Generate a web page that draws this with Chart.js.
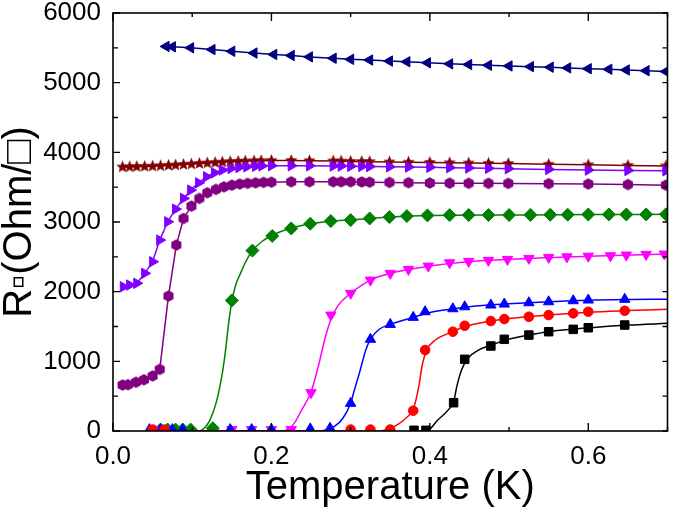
<!DOCTYPE html>
<html>
<head>
<meta charset="utf-8">
<script src="https://cdn.jsdelivr.net/npm/chart.js@4"></script>
<style>
  html, body { margin: 0; padding: 0; background: #fff; }
  #wrap { width: 675px; height: 512px; }
</style>
</head>
<body>
<div id="wrap"><canvas id="chart" width="675" height="512"></canvas></div>
<script>
// Sheet resistance vs temperature

// left triangles (navy)
const navyT = [0.067, 0.075, 0.098, 0.125, 0.150, 0.178, 0.203, 0.225, 0.248, 0.278, 0.300, 0.324, 0.349, 0.371, 0.397, 0.425, 0.449, 0.474, 0.500, 0.527, 0.552, 0.574, 0.600, 0.626, 0.648, 0.673, 0.698];
const navyR = [5520, 5515, 5500, 5475, 5450, 5425, 5405, 5390, 5370, 5350, 5335, 5325, 5310, 5300, 5285, 5270, 5260, 5250, 5240, 5230, 5222, 5212, 5200, 5192, 5182, 5172, 5160];

// stars (dark red)
const starT = [0.012, 0.021, 0.030, 0.040, 0.050, 0.060, 0.070, 0.079, 0.089, 0.099, 0.109, 0.119, 0.129, 0.138, 0.148, 0.158, 0.167, 0.178, 0.187, 0.200, 0.225, 0.248, 0.278, 0.288, 0.300, 0.314, 0.324, 0.349, 0.373, 0.400, 0.425, 0.449, 0.474, 0.499, 0.550, 0.600, 0.650, 0.698];
const starR = [3790, 3792, 3795, 3798, 3802, 3806, 3812, 3818, 3825, 3832, 3840, 3847, 3853, 3860, 3866, 3870, 3874, 3877, 3880, 3882, 3882, 3880, 3876, 3874, 3870, 3868, 3866, 3862, 3858, 3855, 3850, 3846, 3842, 3838, 3828, 3820, 3812, 3805];

// right triangles (violet)
const violetT = [0.013, 0.021, 0.030, 0.040, 0.050, 0.059, 0.069, 0.079, 0.089, 0.098, 0.108, 0.118, 0.128, 0.138, 0.149, 0.159, 0.169, 0.180, 0.188, 0.200, 0.225, 0.248, 0.278, 0.288, 0.300, 0.314, 0.324, 0.349, 0.373, 0.400, 0.425, 0.449, 0.474, 0.499, 0.550, 0.600, 0.650, 0.698];
const violetR = [2070, 2095, 2120, 2263, 2430, 2740, 3003, 3185, 3339, 3458, 3562, 3649, 3706, 3745, 3769, 3783, 3792, 3800, 3805, 3808, 3808, 3806, 3804, 3803, 3800, 3798, 3796, 3792, 3788, 3785, 3780, 3775, 3770, 3765, 3755, 3745, 3740, 3735];

// hexagons (purple)
const purpleT = [0.012, 0.019, 0.029, 0.039, 0.050, 0.059, 0.070, 0.080, 0.089, 0.099, 0.109, 0.119, 0.130, 0.140, 0.150, 0.160, 0.170, 0.180, 0.190, 0.200, 0.225, 0.248, 0.278, 0.288, 0.300, 0.314, 0.324, 0.349, 0.373, 0.400, 0.425, 0.449, 0.474, 0.499, 0.550, 0.600, 0.650, 0.698];
const purpleR = [660, 665, 700, 735, 790, 885, 1937, 2669, 3051, 3228, 3339, 3419, 3468, 3505, 3529, 3545, 3555, 3562, 3568, 3572, 3577, 3577, 3577, 3577, 3577, 3575, 3572, 3568, 3564, 3560, 3558, 3556, 3555, 3554, 3550, 3545, 3538, 3529];

// diamonds (green)
const greenT = [0.060, 0.069, 0.079, 0.088, 0.098, 0.126, 0.150, 0.176, 0.201, 0.225, 0.249, 0.275, 0.300, 0.324, 0.349, 0.371, 0.397, 0.425, 0.449, 0.474, 0.500, 0.527, 0.552, 0.574, 0.600, 0.626, 0.648, 0.673, 0.698];
const greenR = [20, 20, 20, 20, 20, 40, 1875, 2590, 2800, 2908, 2975, 3013, 3027, 3051, 3070, 3085, 3095, 3099, 3100, 3100, 3100, 3102, 3104, 3105, 3107, 3108, 3108, 3109, 3110];
const greenFitT = [0.060, 0.107, 0.115, 0.122, 0.130, 0.138, 0.142, 0.146, 0.150, 0.155, 0.161, 0.168, 0.176, 0.188, 0.201, 0.225, 0.250, 0.275, 0.300, 0.350, 0.400, 0.500, 0.600, 0.700];
const greenFitR = [0, 0, 40, 150, 397, 828, 1150, 1545, 1860, 2100, 2263, 2440, 2587, 2720, 2810, 2915, 2975, 3010, 3030, 3070, 3092, 3100, 3106, 3110];

// down triangles (magenta)
const magT = [0.060, 0.150, 0.175, 0.200, 0.225, 0.250, 0.275, 0.300, 0.325, 0.350, 0.373, 0.398, 0.425, 0.449, 0.474, 0.498, 0.525, 0.550, 0.573, 0.600, 0.628, 0.648, 0.673, 0.696];
const magR = [20, 20, 20, 20, 20, 550, 1664, 1976, 2166, 2263, 2320, 2367, 2415, 2435, 2450, 2463, 2478, 2492, 2500, 2510, 2515, 2525, 2535, 2540];
const magFitT = [0.060, 0.213, 0.222, 0.230, 0.238, 0.250, 0.259, 0.267, 0.275, 0.284, 0.300, 0.325, 0.350, 0.400, 0.450, 0.500, 0.600, 0.700];
const magFitR = [0, 0, 30, 130, 300, 560, 920, 1300, 1600, 1800, 1976, 2166, 2263, 2370, 2430, 2465, 2510, 2540];

// up triangles (blue)
const blueT = [0.046, 0.060, 0.075, 0.088, 0.148, 0.175, 0.200, 0.249, 0.274, 0.300, 0.325, 0.350, 0.379, 0.394, 0.429, 0.444, 0.477, 0.494, 0.525, 0.550, 0.581, 0.600, 0.646];
const blueR = [20, 20, 20, 20, 20, 20, 20, 30, 40, 397, 1316, 1530, 1631, 1712, 1755, 1783, 1808, 1822, 1841, 1855, 1870, 1880, 1890];
const blueFitT = [0.046, 0.258, 0.270, 0.280, 0.290, 0.300, 0.305, 0.311, 0.319, 0.325, 0.336, 0.350, 0.380, 0.400, 0.430, 0.450, 0.500, 0.550, 0.600, 0.650, 0.700];
const blueFitR = [0, 0, 20, 70, 180, 400, 600, 830, 1160, 1316, 1460, 1530, 1635, 1700, 1755, 1785, 1825, 1855, 1878, 1888, 1892];

// circles (red)
const redT = [0.050, 0.065, 0.300, 0.325, 0.350, 0.379, 0.394, 0.429, 0.444, 0.477, 0.494, 0.525, 0.550, 0.581, 0.600, 0.646];
const redR = [20, 20, 20, 20, 20, 291, 1162, 1425, 1511, 1578, 1607, 1640, 1664, 1689, 1712, 1726];
const redFitT = [0.050, 0.334, 0.350, 0.367, 0.380, 0.386, 0.390, 0.396, 0.407, 0.429, 0.444, 0.477, 0.500, 0.550, 0.600, 0.650, 0.700];
const redFitR = [0, 0, 40, 158, 349, 636, 922, 1162, 1306, 1425, 1500, 1578, 1615, 1664, 1705, 1728, 1746];

// squares (black)
const blackT = [0.380, 0.395, 0.430, 0.444, 0.477, 0.494, 0.525, 0.550, 0.581, 0.600, 0.646];
const blackR = [10, 10, 406, 1029, 1220, 1316, 1377, 1425, 1459, 1482, 1521];
const blackFitT = [0.380, 0.396, 0.410, 0.423, 0.430, 0.434, 0.440, 0.448, 0.463, 0.477, 0.494, 0.525, 0.550, 0.600, 0.650, 0.700];
const blackFitR = [0, 0, 158, 300, 420, 636, 875, 1043, 1172, 1230, 1300, 1377, 1425, 1480, 1520, 1545];

const xTicks = [0.0, 0.2, 0.4, 0.6];
const yTicks = [0, 1000, 2000, 3000, 4000, 5000, 6000];

const FONT = "'Liberation Sans', Arial, sans-serif";

const pts = (xs, ys) => xs.map((x, i) => ({ x: x, y: ys[i] }));

// filled polygon markers that Chart.js lacks
function polyMarker(color, r, n, inner) {
    const c = document.createElement('canvas');
    const s = Math.ceil(r * 2 + 2);
    c.width = s;
    c.height = s;
    const g = c.getContext('2d');
    const steps = inner ? n * 2 : n;
    g.beginPath();
    for (let i = 0; i < steps; i++) {
        const rad = inner && i % 2 ? r * inner : r;
        const a = -Math.PI / 2 + i * 2 * Math.PI / steps;
        g.lineTo(s / 2 + rad * Math.cos(a), s / 2 + rad * Math.sin(a));
    }
    g.closePath();
    g.fillStyle = color;
    g.fill();
    return c;
}

function markers(xs, ys, color, style, radius, rotation, line) {
    return {
        data: pts(xs, ys),
        borderColor: color,
        backgroundColor: color,
        pointStyle: style,
        pointRadius: radius,
        pointRotation: rotation || 0,
        pointBorderWidth: 1,
        showLine: !!line,
        borderWidth: 1.5,
        tension: 0,
        order: 0
    };
}

function fit(xs, ys, color) {
    return {
        data: pts(xs, ys),
        borderColor: color,
        backgroundColor: color,
        pointRadius: 0,
        showLine: true,
        borderWidth: 1.5,
        cubicInterpolationMode: 'monotone',
        order: 1
    };
}

const frame = {
    id: 'frame',
    afterDatasetsDraw(chart) {
        const { ctx, chartArea: a, scales: { x, y } } = chart;
        ctx.save();
        ctx.strokeStyle = '#000';
        ctx.lineWidth = 1.6;
        ctx.strokeRect(a.left, a.top, a.right - a.left, a.bottom - a.top);
        ctx.lineWidth = 1.4;
        ctx.beginPath();
        x.ticks.forEach(t => {
            const px = x.getPixelForValue(t.value);
            const len = xTicks.some(v => Math.abs(v - t.value) < 1e-6) ? 8 : 4;
            ctx.moveTo(px, a.bottom); ctx.lineTo(px, a.bottom - len);
            ctx.moveTo(px, a.top); ctx.lineTo(px, a.top + len);
        });
        y.ticks.forEach(t => {
            const py = y.getPixelForValue(t.value);
            const len = yTicks.includes(t.value) ? 7 : 5;
            ctx.moveTo(a.left, py); ctx.lineTo(a.left + len, py);
            ctx.moveTo(a.right, py); ctx.lineTo(a.right - 5, py);
        });
        ctx.stroke();
        ctx.restore();
    }
};

new Chart(document.getElementById('chart'), {
    type: 'scatter',
    data: {
        datasets: [
            markers(blackT, blackR, '#000000', 'rect', 6),
            markers(redT, redR, '#ff0000', 'circle', 4.8),
            markers(blueT, blueR, '#0000ff', 'triangle', 6),
            markers(magT, magR, '#ff00ff', 'triangle', 6, 180),
            markers(greenT, greenR, '#008000', 'rectRot', 6.5),
            markers(purpleT, purpleR, '#800080', polyMarker('#800080', 5.8, 6), 5.8, 0, true),
            markers(violetT, violetR, '#8000ff', 'triangle', 6, 90, true),
            markers(starT, starR, '#800000', polyMarker('#800000', 6.5, 5, 0.45), 6, 0, true),
            markers(navyT, navyR, '#000080', 'triangle', 6, -90, true),
            fit(blackFitT, blackFitR, '#000000'),
            fit(redFitT, redFitR, '#ff0000'),
            fit(blueFitT, blueFitR, '#0000ff'),
            fit(magFitT, magFitR, '#ff00ff'),
            fit(greenFitT, greenFitR, '#008000')
        ]
    },
    options: {
        responsive: false,
        animation: false,
        layout: { padding: { top: 13, right: 0, left: 0, bottom: 0 } },
        plugins: { legend: { display: false }, tooltip: { enabled: false } },
        scales: {
            x: {
                type: 'linear',
                min: 0,
                max: 0.7,
                grid: { display: false, drawTicks: false },
                border: { display: false },
                ticks: {
                    stepSize: 0.1,
                    autoSkip: false,
                    maxRotation: 0,
                    padding: 10,
                    color: '#000',
                    font: { family: FONT, size: 26 },
                    callback: v => xTicks.some(t => Math.abs(t - v) < 1e-6) ? v.toFixed(1) : ''
                },
                title: {
                    display: true,
                    text: 'Temperature (K)',
                    color: '#000',
                    font: { family: FONT, size: 40, lineHeight: 1 },
                    padding: { top: 0, bottom: 4 }
                },
                afterFit: s => {
                    s.height = 81;
                    s.paddingLeft = 0;
                    s.paddingRight = 0;
                }
            },
            y: {
                min: 0,
                max: 6000,
                grid: { display: false, drawTicks: false },
                border: { display: false },
                ticks: {
                    stepSize: 500,
                    autoSkip: false,
                    padding: 12,
                    color: '#000',
                    font: { family: FONT, size: 26 },
                    callback: v => yTicks.includes(v) ? String(v) : ''
                },
                title: {
                    display: true,
                    text: 'R\u25AB(Ohm/\u25A1)',
                    color: '#000',
                    font: { family: FONT, size: 40, lineHeight: 1 },
                    padding: { top: 0, bottom: 0 }
                },
                afterFit: s => {
                    s.width = 113;
                    s.paddingTop = 0;
                    s.paddingBottom = 0;
                }
            }
        }
    },
    plugins: [frame]
});
</script>
</body>
</html>
